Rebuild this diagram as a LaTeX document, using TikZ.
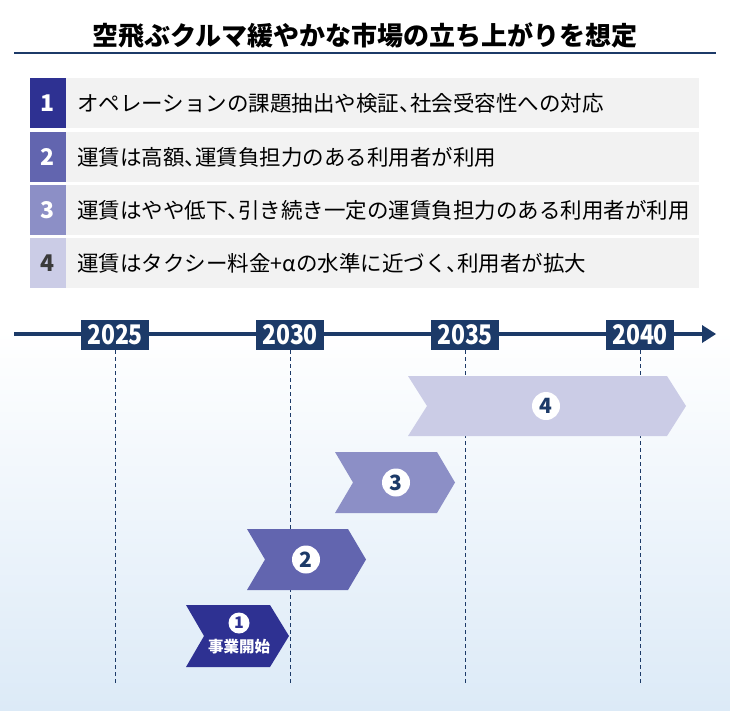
\documentclass[tikz,border=0pt]{standalone}
\usepackage{fontspec}
\setmainfont{Noto Sans CJK JP}
\usepackage{graphicx}
\usetikzlibrary{shadings}
\definecolor{navy}{HTML}{1C3A68}
\definecolor{cA}{HTML}{2E3192}
\definecolor{cB}{HTML}{6265AF}
\definecolor{cC}{HTML}{8C8FC6}
\definecolor{cD}{HTML}{CBCCE6}
\definecolor{rowbg}{HTML}{F2F2F2}
\definecolor{bgblue}{HTML}{DCEAF7}
\definecolor{darkgray}{HTML}{3A3A3A}
\newcommand{\tenn}{{\addfontfeature{RawFeature=+halt}、}}
\newcommand{\yrtxt}[1]{\scalebox{0.85}[1]{#1}}
\tikzset{
  numbox/.style={minimum width=36pt,minimum height=50pt,inner sep=0pt,font=\fontsize{23}{23}\selectfont\bfseries,text=white},
  rowbox/.style={fill=rowbg,minimum height=50pt,inner sep=0pt},
  rowtext/.style={anchor=west,inner sep=0pt,font=\fontsize{21.5}{22}\selectfont},
  yearbox/.style={fill=navy,minimum width=68pt,minimum height=30pt,inner sep=0pt,text=white,font=\fontsize{27}{27}\selectfont\bfseries},
  vline/.style={navy,line width=0.7pt,dash pattern=on 4pt off 3pt},
  numcirc/.style={circle,fill=white,minimum size=28pt,inner sep=0pt,text=navy,font=\fontsize{21}{21}\selectfont\bfseries},
}
\begin{document}
\begin{tikzpicture}[x=1pt,y=-1pt]
\useasboundingbox (0,0) rectangle (730,710);
% background gradient
\shade[top color=white,bottom color=bgblue] (0,330) rectangle (730,710);
% title
\node[font=\fontsize{26}{26}\selectfont\bfseries] (title) at (365,36) {空飛ぶクルマ緩やかな市場の立ち上がりを想定};
\draw[navy,line width=1.5pt] (14,53) -- (716,53);
% list rows
\foreach \i/\y/\c/\tc/\t in {1/103/cA/white/オペレーションの課題抽出や検証\tenn 社会受容性への対応,
  2/157/cB/white/運賃は高額\tenn 運賃負担力のある利用者が利用,
  3/210/cC/white/運賃はやや低下\tenn 引き続き一定の運賃負担力のある利用者が利用,
  4/263/cD/darkgray/運賃はタクシー料金+αの水準に近づく\tenn 利用者が拡大}{
  \node[rowbox,minimum width=633pt,anchor=west] (row\i) at (66,\y) {};
  \node[numbox,fill=\c,text=\tc] (num\i) at (48,\y) {\i};
  \node[rowtext] (txt\i) at (77,\y) {\t};
}
% timeline
\coordinate (tl0) at (14,334);
\coordinate (tl1) at (716,334);
\draw[navy,line width=4pt] (tl0) -- (703,334);
\fill[navy] (tl1) -- (702,325) -- (702,343) -- cycle;
\foreach \x/\yr in {115/2025,290/2030,465/2035,640/2040}{
  \coordinate (b\yr) at (\x,683);
  \node[yearbox] (y\yr) at (\x,335) {\yrtxt{\yr}};
  \draw[vline] (y\yr.south) -- (b\yr);
}
% chevrons
\fill[cD] (408,376) -- (667,376) -- (686,406) -- (667,436) -- (408,436) -- (427,406) -- cycle;
\fill[cC] (335,452) -- (437,452) -- (455,482.5) -- (437,513) -- (335,513) -- (353,482.5) -- cycle;
\fill[cB] (247,529) -- (348,529) -- (366,559.5) -- (348,590) -- (247,590) -- (265,559.5) -- cycle;
\fill[cA] (186,605) -- (270,605) -- (289,636) -- (270,667) -- (186,667) -- (204,636) -- cycle;
\node[numcirc] (c4) at (546,406) {4};
\node[numcirc] (c3) at (396,482.5) {3};
\node[numcirc] (c2) at (306,559.5) {2};
\node[circle,fill=white,minimum size=21pt,inner sep=0pt,text=cA,font=\fontsize{16}{16}\selectfont\bfseries] (c1) at (239,623) {1};
\node[text=white,inner sep=0pt,font=\fontsize{15.5}{15.5}\selectfont\bfseries] (start) at (239,647) {事業開始};
\end{tikzpicture}
\end{document}
